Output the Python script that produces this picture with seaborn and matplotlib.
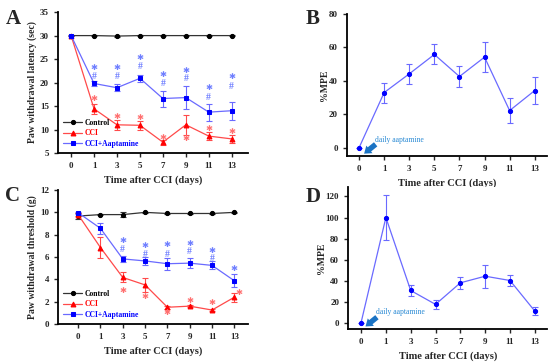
import numpy as np
import pandas as pd
import matplotlib
matplotlib.use("Agg")
import matplotlib.pyplot as plt
import seaborn as sns

# ---------------- data ----------------
days = ["0", "1", "3", "5", "7", "9", "11", "13"]

# Panel A: paw withdrawal latency (sec)
a_control = [30.0, 30.0, 29.9, 30.0, 30.0, 30.0, 30.0, 30.0]
a_control_err = [0.1, 0.1, 0.1, 0.1, 0.1, 0.1, 0.1, 0.1]
a_cci = [30.0, 14.4, 11.0, 10.9, 7.3, 11.0, 8.6, 8.0]
a_cci_err = [0.0, 1.1, 1.1, 1.0, 0.5, 2.1, 0.8, 0.8]
a_apt = [30.0, 19.8, 18.9, 20.9, 16.6, 16.8, 13.7, 14.0]
a_apt_err = [0.0, 0.6, 0.7, 0.8, 1.7, 2.4, 1.8, 1.9]
a_apt_star = [None, 23.2, 23.2, 25.4, 21.8, 22.6, 18.9, 21.3]
a_apt_hash = [None, 21.2, 21.2, 23.4, 19.8, 20.8, 16.8, 19.1]
a_cci_star = [None, 16.6, 12.8, 12.6, 8.4, 8.1, 10.2, 9.6]

# Panel B: %MPE
b_mpe = [0.0, 33.0, 44.2, 55.8, 42.6, 54.2, 22.2, 34.2]
b_mpe_err = [0.0, 6.0, 5.8, 6.0, 6.0, 9.0, 7.4, 8.2]

# Panel C: paw withdrawal threshold (g)
c_control = [9.67, 9.8, 9.8, 10.0, 9.9, 9.9, 9.9, 10.0]
c_control_err = [0.3, 0.08, 0.2, 0.05, 0.05, 0.05, 0.05, 0.05]
c_cci = [9.8, 6.85, 4.17, 3.5, 1.5, 1.6, 1.25, 2.4]
c_cci_err = [0.1, 0.95, 0.45, 0.6, 0.15, 0.1, 0.05, 0.4]
c_apt = [9.97, 8.57, 5.83, 5.65, 5.4, 5.45, 5.25, 3.87]
c_apt_err = [0.1, 0.5, 0.25, 0.35, 0.55, 0.45, 0.35, 0.6]
c_apt_star = [None, None, 7.5, 7.0, 7.1, 7.2, 6.6, 5.0]
c_apt_hash = [None, None, 6.65, 6.25, 6.25, 6.45, 5.9, None]
c_cci_star = [None, None, 3.0, 2.5, 1.05, 2.1, 1.9, 2.8]

# Panel D: %MPE
d_mpe = [0.0, 100.0, 30.6, 17.4, 37.9, 44.2, 40.1, 11.0]
d_mpe_err = [0.0, 21.0, 5.0, 4.5, 6.0, 10.8, 5.5, 3.5]

# ---------------- style ----------------
sns.set_style("ticks")
plt.rcParams["font.family"] = ["Liberation Serif", "DejaVu Serif"]
plt.rcParams["font.weight"] = "bold"
plt.rcParams["axes.labelweight"] = "bold"

BLACK = "#000000"
RED_M = "#ff0000"
RED_L = "#ff4a4a"
BLUE_M = "#0000ff"
BLUE_L = "#6a6aff"
ARROW = "#1a73c4"
STAR_R = "#ff7070"
STAR_B = "#6f7fff"
STAR = "\u2731"

fig = plt.figure(figsize=(5.5, 3.64), dpi=100)
axA = fig.add_axes([0.1055, 0.5797, 0.345, 0.387])
axB = fig.add_axes([0.631, 0.5714, 0.364, 0.390])
axC = fig.add_axes([0.1055, 0.1099, 0.345, 0.368])
axD = fig.add_axes([0.633, 0.0962, 0.362, 0.390])

pos = np.arange(len(days))


def draw_series(ax, vals, errs, mcolor, lcolor, marker, ms, label):
    df = pd.DataFrame({"x": pos, "y": vals})
    ax.errorbar(pos, vals, yerr=errs, fmt="none", ecolor=lcolor,
                elinewidth=0.8, capsize=2, capthick=0.8, zorder=2)
    sns.lineplot(data=df, x="x", y="y", ax=ax, color=lcolor, lw=0.9,
                 marker=marker, markersize=ms, markerfacecolor=mcolor,
                 markeredgecolor=mcolor, label=label, zorder=3)


def style_axis(ax, ylim, yticks, xlim, ylabel, ylabelpad=2):
    ax.set_xlim(*xlim)
    ax.set_ylim(*ylim)
    ax.set_yticks(yticks)
    ax.set_xticks(pos)
    ax.set_xticklabels(days)
    ax.set_xlabel("Time after CCI (days)", fontsize=7.5, fontweight="bold",
                  labelpad=4)
    ax.set_ylabel(ylabel, fontsize=7, fontweight="bold", labelpad=ylabelpad)
    sns.despine(ax=ax)
    for s in ("left", "bottom"):
        ax.spines[s].set_linewidth(1.3)
        ax.spines[s].set_color("black")
    ax.tick_params(axis="both", labelsize=6.5, width=1.0, length=3,
                   direction="out", pad=3.5)
    for t in ax.get_xticklabels() + ax.get_yticklabels():
        t.set_fontweight("bold")


def annotate(ax, ys, text, color, fs=6, dx=0.0, family="DejaVu Sans",
             weight="normal"):
    for i, y in enumerate(ys):
        if y is None:
            continue
        ax.text(pos[i] + dx, y, text, color=color, fontsize=fs,
                ha="center", va="center", fontweight=weight,
                family=family, zorder=4)


def arrow(ax, head, tail):
    ax.annotate("", xy=head, xytext=tail,
                arrowprops=dict(arrowstyle="simple,head_width=1.0,head_length=0.7,tail_width=0.55",
                                mutation_scale=7, color=ARROW, lw=0,
                                shrinkA=0, shrinkB=0))


# ---- Panel A ----
draw_series(axA, a_control, a_control_err, BLACK, "#333333", "o", 3, "Control")
draw_series(axA, a_cci, a_cci_err, RED_M, RED_L, "^", 3.5, "CCI")
draw_series(axA, a_apt, a_apt_err, BLUE_M, BLUE_L, "s", 3.5, "CCI+Aaptamine")
annotate(axA, a_apt_star, STAR, STAR_B)
annotate(axA, a_apt_hash, "#", STAR_B, fs=7, family="Liberation Serif",
         weight="bold")
annotate(axA, a_cci_star, STAR, STAR_R)
style_axis(axA, (5, 35), [5, 10, 15, 20, 25, 30, 35], (-0.57, 7.7),
           "Paw withdrawal latency (sec)")

# ---- Panel C ----
draw_series(axC, c_control, c_control_err, BLACK, "#333333", "o", 3, "Control")
draw_series(axC, c_cci, c_cci_err, RED_M, RED_L, "^", 3.5, "CCI")
draw_series(axC, c_apt, c_apt_err, BLUE_M, BLUE_L, "s", 3.5, "CCI+Aaptamine")
annotate(axC, c_apt_star, STAR, STAR_B)
annotate(axC, c_apt_hash, "#", STAR_B, fs=7, family="Liberation Serif",
         weight="bold")
annotate(axC, c_cci_star[:7] + [None], STAR, STAR_R)
axC.text(pos[7] + 0.22, c_cci_star[7], STAR, color=STAR_R, fontsize=6,
         ha="center", va="center", family="DejaVu Sans", zorder=4)
style_axis(axC, (0, 12), [0, 2, 4, 6, 8, 10, 12], (-0.9, 7.6),
           "Paw withdrawal threshold (g)")

for ax in (axA, axC):
    leg = ax.legend(loc="lower left", bbox_to_anchor=(0.0, 0.0), frameon=False,
                    fontsize=5.5, handlelength=2.4, handletextpad=0.4,
                    labelspacing=0.3, borderaxespad=0.3)
    for txt, col in zip(leg.get_texts(), [BLACK, RED_M, BLUE_M]):
        txt.set_color(col)
        txt.set_fontweight("bold")

# ---- Panel B ----
draw_series(axB, b_mpe, b_mpe_err, BLUE_M, BLUE_L, "o", 3, None)
style_axis(axB, (-5, 80), [0, 20, 40, 60, 80], (-0.48, 7.5), "%MPE",
           ylabelpad=0)
arrow(axB, (0.2, -3.6), (0.66, 2.0))
axB.text(0.62, 4.8, "daily aaptamine", color="#2a8ad4", fontsize=5.5,
         fontweight="normal", ha="left", va="center")

# ---- Panel D ----
draw_series(axD, d_mpe, d_mpe_err, BLUE_M, BLUE_L, "o", 3, None)
style_axis(axD, (-6, 129), [0, 20, 40, 60, 80, 100, 120], (-0.52, 7.5), "%MPE",
           ylabelpad=0)
arrow(axD, (0.18, -3.6), (0.64, 5.2))
axD.text(0.62, 10.5, "daily aaptamine", color="#2a8ad4", fontsize=5.5,
         fontweight="normal", ha="left", va="center")

for ax in (axB, axD):
    if ax.get_legend() is not None:
        ax.get_legend().remove()

# panel letters
for x, y, s in [(0.01, 0.975, "A"), (0.555, 0.975, "B"),
                (0.01, 0.49, "C"), (0.555, 0.485, "D")]:
    fig.text(x, y, s, fontsize=15, fontweight="bold", ha="left", va="top")

fig.savefig("out.png", dpi=100)
